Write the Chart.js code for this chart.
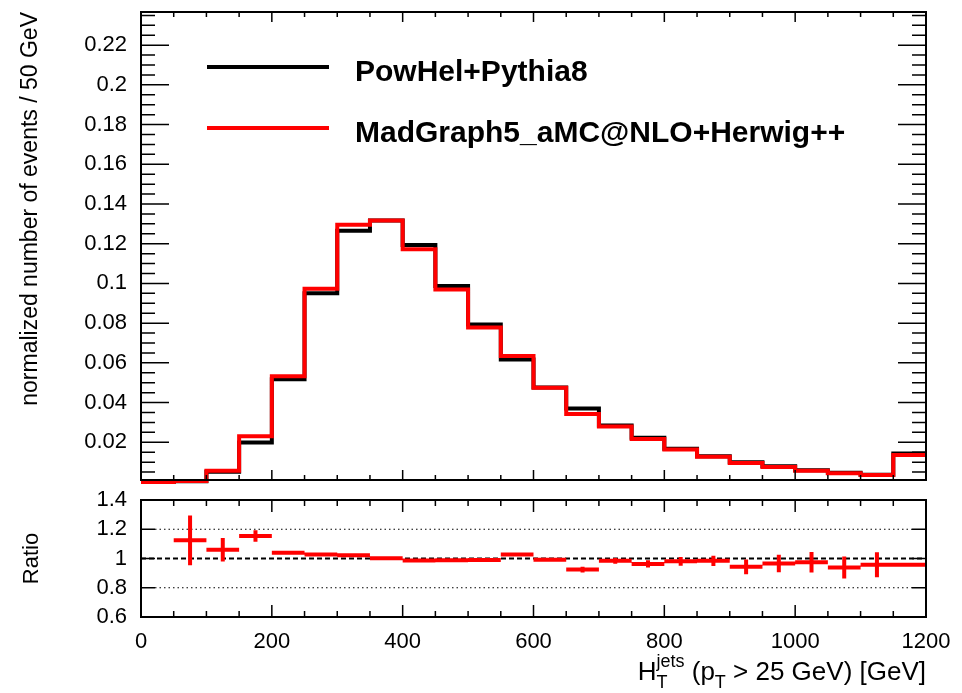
<!DOCTYPE html>
<html>
<head>
<meta charset="utf-8">
<script src="https://cdn.jsdelivr.net/npm/chart.js@4.4.1/dist/chart.umd.min.js"></script>
<style>
  html, body { margin: 0; padding: 0; background: #fff; }
  #wrap { position: relative; width: 962px; height: 693px; overflow: hidden; }
  .panel { position: absolute; left: 0; width: 962px; }
  #top { top: 0; height: 500px; }
  #bottom { top: 480px; height: 213px; }
</style>
</head>
<body>
<div id="wrap">
  <div class="panel" id="top"><canvas id="htChart"></canvas></div>
  <div class="panel" id="bottom"><canvas id="ratioChart"></canvas></div>
</div>
<script>
// H_T bins, 50 GeV wide
const binEdges = [0, 50, 100, 150, 200, 250, 300, 350, 400, 450, 500, 550, 600,
                  650, 700, 750, 800, 850, 900, 950, 1000, 1050, 1100, 1150, 1200];

const powhel = [0, 0.0004, 0.0052, 0.0199, 0.0517, 0.0950, 0.1265, 0.1317, 0.1194, 0.0987,
                0.0793, 0.0617, 0.0476, 0.0370, 0.0284, 0.0223, 0.0167, 0.0130, 0.0100,
                0.0079, 0.0059, 0.0047, 0.0037, 0.0143];
const madgraph = [0, 0.00045, 0.0057, 0.0230, 0.0532, 0.0973, 0.1295, 0.1317, 0.1172, 0.0970,
                  0.0778, 0.0635, 0.0474, 0.0342, 0.0279, 0.0217, 0.0164, 0.0127, 0.0095,
                  0.0076, 0.0057, 0.0044, 0.0035, 0.0136];

// MadGraph / PowHel and its uncertainty per bin
const ratio = [null, 1.124, 1.06, 1.154, 1.039, 1.028, 1.023, 1.002, 0.986, 0.988, 0.990,
               1.028, 0.991, 0.924, 0.984, 0.963, 0.981, 0.984, 0.943, 0.966, 0.975,
               0.938, 0.957, 0.957];
const ratioErr = [null, 0.17, 0.08, 0.04, 0.012, 0.008, 0.006, 0.006, 0.006, 0.007, 0.009,
                  0.011, 0.014, 0.02, 0.02, 0.025, 0.03, 0.035, 0.05, 0.06, 0.07,
                  0.075, 0.085, 0.01];

const yTicks = [0.02, 0.04, 0.06, 0.08, 0.1, 0.12, 0.14, 0.16, 0.18, 0.2, 0.22];
const yTickLabels = ['0.02', '0.04', '0.06', '0.08', '0.1', '0.12', '0.14', '0.16', '0.18', '0.2', '0.22'];
const ratioTicks = [0.6, 0.8, 1, 1.2, 1.4];
const ratioTickLabels = ['0.6', '0.8', '1', '1.2', '1.4'];
const xTicks = [0, 200, 400, 600, 800, 1000, 1200];
const xTickLabels = ['0', '200', '400', '600', '800', '1000', '1200'];

const FONT = "'Liberation Sans', Arial, Helvetica, sans-serif";
Chart.defaults.font.family = FONT;
Chart.defaults.color = '#000';

// histogram outline: one point per left bin edge plus the closing edge
function stepPoints(values) {
  const pts = values.map((v, i) => ({ x: binEdges[i], y: v }));
  pts.push({ x: binEdges[binEdges.length - 1], y: values[values.length - 1] });
  return pts;
}

// ratio markers: horizontal bin-width bar and vertical error bar, broken by gaps
function errorBarPoints() {
  const pts = [];
  ratio.forEach((r, i) => {
    if (r === null) return;
    const lo = binEdges[i], hi = binEdges[i + 1], c = (lo + hi) / 2, e = ratioErr[i];
    pts.push({ x: lo, y: r }, { x: hi, y: r }, { x: hi, y: null });
    pts.push({ x: c, y: r - e }, { x: c, y: r + e }, { x: c, y: null });
  });
  return pts;
}

// fixed axis box, no extra room for end labels
function fixWidth(w) {
  return (scale) => { scale.width = w; scale.paddingTop = 0; scale.paddingBottom = 0; };
}

// ROOT-like frame with inward ticks on all four sides
const frameTicks = {
  id: 'frameTicks',
  afterDraw(chart, args, o) {
    const { ctx, chartArea: a, scales: { x, y } } = chart;
    ctx.save();
    ctx.strokeStyle = '#000';
    ctx.lineWidth = 1.5;
    ctx.beginPath();
    const xr = Math.round(o.xMajor / o.xMinor);
    for (let i = Math.ceil(x.min / o.xMinor - 1e-6); i * o.xMinor <= x.max + 1e-6; i++) {
      const px = x.getPixelForValue(i * o.xMinor);
      const len = i % xr === 0 ? o.xMajorLen : o.xMinorLen;
      ctx.moveTo(px, a.bottom); ctx.lineTo(px, a.bottom - len);
      ctx.moveTo(px, a.top); ctx.lineTo(px, a.top + len);
    }
    const yr = Math.round(o.yMajor / o.yMinor);
    for (let i = Math.ceil(y.min / o.yMinor - 1e-6); i * o.yMinor <= y.max + 1e-6; i++) {
      const py = y.getPixelForValue(i * o.yMinor);
      const len = i % yr === 0 ? o.yMajorLen : o.yMinorLen;
      ctx.moveTo(a.left, py); ctx.lineTo(a.left + len, py);
      ctx.moveTo(a.right, py); ctx.lineTo(a.right - len, py);
    }
    ctx.stroke();
    ctx.lineWidth = 2;
    ctx.strokeRect(a.left, a.top, a.width, a.height);
    ctx.restore();
  }
};

const histLegend = {
  id: 'histLegend',
  afterDatasetsDraw(chart) {
    const { ctx } = chart;
    ctx.save();
    ctx.font = 'bold 30px ' + FONT;
    ctx.textBaseline = 'alphabetic';
    chart.data.datasets.forEach((ds, i) => {
      const ly = 67 + i * 61;
      ctx.strokeStyle = ds.borderColor;
      ctx.lineWidth = 4;
      ctx.beginPath();
      ctx.moveTo(207, ly);
      ctx.lineTo(329, ly);
      ctx.stroke();
      ctx.fillStyle = '#000';
      ctx.fillText(ds.label, 355, ly + 14);
    });
    ctx.restore();
  }
};

// reference lines at 1 (dashed) and +-20% (dotted)
const ratioLines = {
  id: 'ratioLines',
  beforeDatasetsDraw(chart) {
    const { ctx, chartArea: a, scales: { y } } = chart;
    ctx.save();
    ctx.strokeStyle = '#000';
    ctx.lineWidth = 1.2;
    ctx.setLineDash([1.5, 3]);
    [0.8, 1.2].forEach(v => {
      const py = y.getPixelForValue(v);
      ctx.beginPath(); ctx.moveTo(a.left + 14, py); ctx.lineTo(a.right - 14, py); ctx.stroke();
    });
    ctx.lineWidth = 2.2;
    ctx.setLineDash([5, 3]);
    const py = y.getPixelForValue(1);
    ctx.beginPath(); ctx.moveTo(a.left, py); ctx.lineTo(a.right, py); ctx.stroke();
    ctx.restore();
  }
};

// H_T^jets (p_T > 25 GeV) [GeV], right-aligned under the frame
const xTitle = {
  id: 'xTitle',
  afterDraw(chart) {
    const { ctx, chartArea: a } = chart;
    const big = '26px ' + FONT, small = '18px ' + FONT;
    const base = 200;
    ctx.save();
    ctx.fillStyle = '#000';
    ctx.textBaseline = 'alphabetic';
    const w = (t, f) => { ctx.font = f; return ctx.measureText(t).width; };
    const tail = ' > 25 GeV) [GeV]';
    const wH = w('H', big), wSup = Math.max(w('jets', small), w('T', small));
    const wP = w(' (p', big), wT = w('T', small), wTail = w(tail, big);
    let x0 = a.right - (wH + wSup + wP + wT + wTail);
    ctx.font = big; ctx.fillText('H', x0, base); x0 += wH;
    ctx.font = small; ctx.fillText('jets', x0, base - 13); ctx.fillText('T', x0, base + 8); x0 += wSup;
    ctx.font = big; ctx.fillText(' (p', x0, base); x0 += wP;
    ctx.font = small; ctx.fillText('T', x0, base + 8); x0 += wT;
    ctx.font = big; ctx.fillText(tail, x0, base);
    ctx.restore();
  }
};

new Chart(document.getElementById('htChart'), {
  type: 'line',
  data: {
    datasets: [
      {
        label: 'PowHel+Pythia8',
        data: stepPoints(powhel),
        borderColor: '#000000',
        borderWidth: 4,
        stepped: true,
        pointRadius: 0,
        fill: false,
        clip: false,
        order: 2
      },
      {
        label: 'MadGraph5_aMC@NLO+Herwig++',
        data: stepPoints(madgraph),
        borderColor: '#ff0000',
        borderWidth: 4,
        stepped: true,
        pointRadius: 0,
        fill: false,
        clip: false,
        order: 1
      }
    ]
  },
  options: {
    responsive: true,
    maintainAspectRatio: false,
    animation: false,
    events: [],
    layout: { padding: { top: 12, right: 36, bottom: 20, left: 0 } },
    plugins: {
      legend: { display: false },
      tooltip: { enabled: false },
      frameTicks: { xMinor: 50, xMajor: 200, xMinorLen: 5, xMajorLen: 10,
                    yMinor: 0.005, yMajor: 0.02, yMinorLen: 14, yMajorLen: 28 }
    },
    scales: {
      x: { type: 'linear', min: 0, max: 1200, display: false },
      y: {
        type: 'linear',
        min: 0.001,
        max: 0.2367,
        grid: { display: false },
        border: { display: false },
        afterBuildTicks: (scale) => { scale.ticks = yTicks.map(v => ({ value: v })); },
        afterFit: fixWidth(141),
        ticks: {
          padding: 6,
          autoSkip: false,
          font: { size: 22 },
          callback: (v, i) => yTickLabels[i]
        },
        title: {
          display: true,
          text: 'normalized number of events / 50 GeV',
          align: 'end',
          font: { size: 23 },
          padding: { top: 17, bottom: 0 }
        }
      }
    }
  },
  plugins: [frameTicks, histLegend]
});

new Chart(document.getElementById('ratioChart'), {
  type: 'line',
  data: {
    datasets: [
      {
        label: 'Ratio',
        data: errorBarPoints(),
        borderColor: '#ff0000',
        borderWidth: 4,
        borderCapStyle: 'butt',
        pointRadius: 0,
        spanGaps: false,
        fill: false
      }
    ]
  },
  options: {
    responsive: true,
    maintainAspectRatio: false,
    animation: false,
    events: [],
    layout: { padding: { top: 20, right: 36, bottom: 0, left: 0 } },
    plugins: {
      legend: { display: false },
      tooltip: { enabled: false },
      frameTicks: { xMinor: 50, xMajor: 200, xMinorLen: 6, xMajorLen: 12,
                    yMinor: 0.2, yMajor: 0.2, yMinorLen: 14, yMajorLen: 14 }
    },
    scales: {
      x: {
        type: 'linear',
        min: 0,
        max: 1200,
        grid: { display: false },
        border: { display: false },
        afterBuildTicks: (scale) => { scale.ticks = xTicks.map(v => ({ value: v })); },
        afterFit: (scale) => { scale.height = 76; },
        ticks: {
          padding: 4,
          maxRotation: 0,
          autoSkip: false,
          font: { size: 22 },
          callback: (v, i) => xTickLabels[i]
        }
      },
      y: {
        type: 'linear',
        min: 0.6,
        max: 1.4,
        grid: { display: false },
        border: { display: false },
        afterBuildTicks: (scale) => { scale.ticks = ratioTicks.map(v => ({ value: v })); },
        afterFit: fixWidth(141),
        ticks: {
          padding: 6,
          autoSkip: false,
          font: { size: 22 },
          callback: (v, i) => ratioTickLabels[i]
        },
        title: {
          display: true,
          text: 'Ratio',
          font: { size: 22 },
          padding: { top: 19, bottom: 0 }
        }
      }
    }
  },
  plugins: [ratioLines, frameTicks, xTitle]
});
</script>
</body>
</html>
